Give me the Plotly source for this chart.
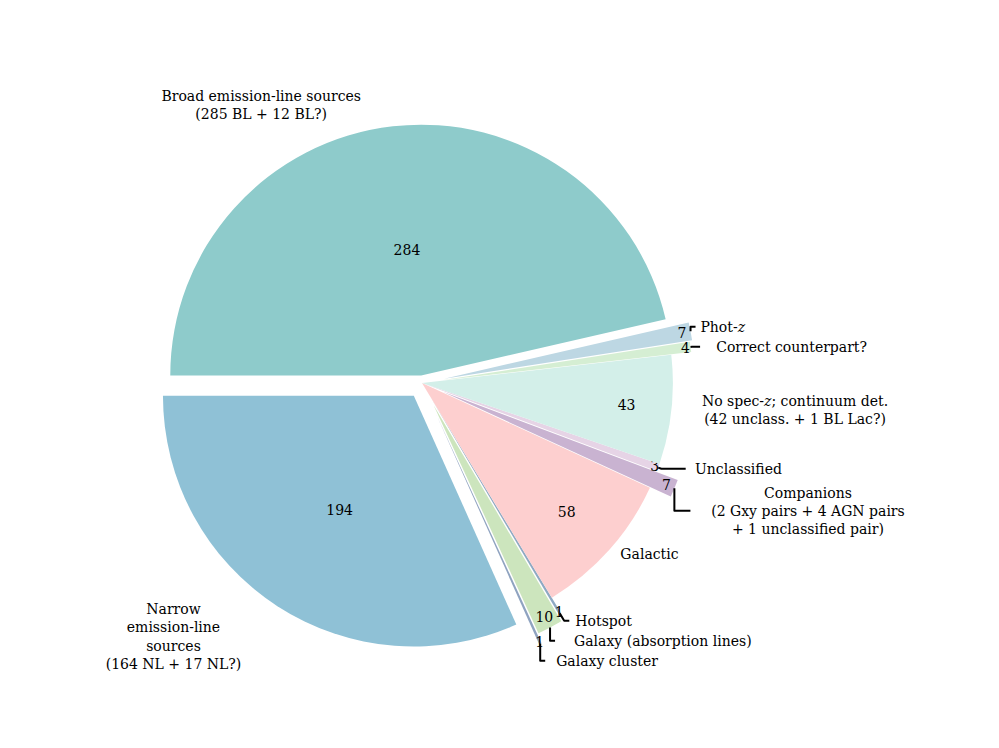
import plotly.graph_objects as go

labels = ["Broad emission-line sources<br>(285 BL + 12 BL?)",
          "Narrow<br>emission-line<br>sources<br>(164 NL + 17 NL?)",
          "Galaxy cluster", "Galaxy (absorption lines)", "Hotspot", "Galactic",
          "Companions<br>(2 Gxy pairs + 4 AGN pairs<br>+ 1 unclassified pair)",
          "Unclassified",
          "No spec-<i>z</i>; continuum det.<br>(42 unclass. + 1 BL Lac?)",
          "Correct counterpart?", "Phot-<i>z</i>"]
values = [284, 194, 1, 10, 1, 58, 7, 3, 43, 4, 7]
colors = ["#8ecbcb", "#8fc1d6", "#8fa3c0", "#cce5bd", "#8ea9c3", "#fdcfcf",
          "#c9b3d1", "#e6d4e6", "#d3efe9", "#d5eed3", "#bdd7e3"]
pulls = [0.03, 0.06, 0.14, 0.1, 0.07, 0.0, 0.09, 0.0, 0.0, 0.08, 0.09]

font = dict(family="DejaVu Serif", size=20, color="black")
common = dict(values=values, sort=False, direction="counterclockwise", rotation=-90,
              pull=pulls, domain=dict(x=[0.0, 0.8], y=[0.02, 0.98]))
fig = go.Figure()
fig.add_trace(go.Pie(labels=labels, marker=dict(colors=colors, line=dict(width=0)),
                     textinfo="value", textposition="inside", insidetextorientation="horizontal",
                     textfont=font, hoverinfo="skip", **common))
fig.add_trace(go.Pie(labels=labels, marker=dict(colors=["rgba(0,0,0,0)"] * len(values),
                     line=dict(width=0)),
                     textinfo="label", textposition="outside",
                     textfont=dict(family="DejaVu Serif", size=17, color="black"),
                     hoverinfo="skip", **common))
fig.update_layout(width=999, height=748, showlegend=False, paper_bgcolor="white",
                  margin=dict(l=0, r=0, t=0, b=0), uniformtext=dict(minsize=14, mode="show"))
fig.write_html("out.html")
